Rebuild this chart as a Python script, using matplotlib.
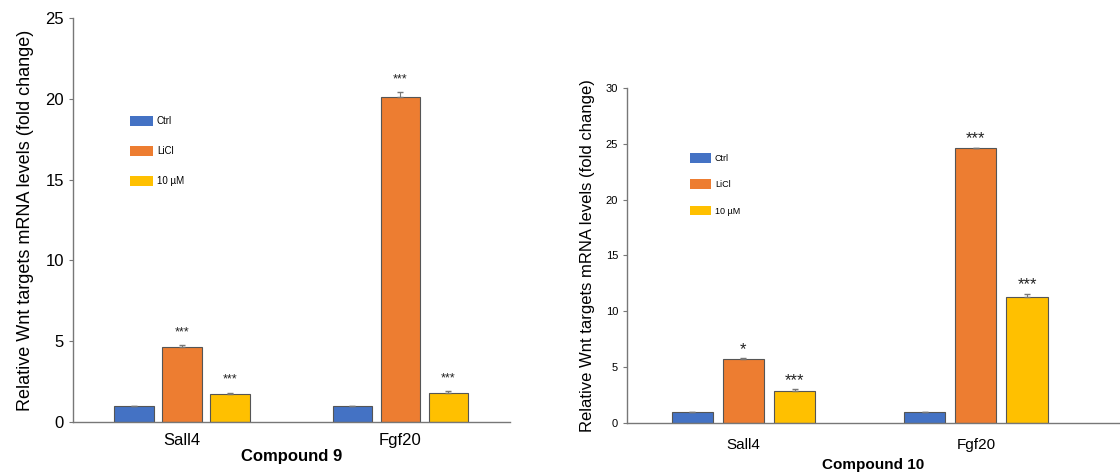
import numpy as np
import matplotlib
matplotlib.use("Agg")
import matplotlib.pyplot as plt
from matplotlib.patches import Patch

plt.rcParams["font.family"] = ["Liberation Sans", "DejaVu Sans"]

genes = ["Sall4", "Fgf20"]
conditions = ["Ctrl", "LiCl", "10 \u00b5M"]
colors = ["#4472C4", "#ED7D31", "#FFC000"]

# compound 9 panel
c9_values = [[1.0, 1.0], [4.63, 20.1], [1.73, 1.78]]
c9_errors = [[0.0, 0.0], [0.12, 0.3], [0.08, 0.1]]
c9_stars = [["", ""], ["***", "***"], ["***", "***"]]

# compound 10 panel
c10_values = [[1.0, 1.0], [5.7, 24.6], [2.85, 11.27]]
c10_errors = [[0.0, 0.0], [0.12, 0.08], [0.15, 0.3]]
c10_stars = [["", ""], ["*", "***"], ["***", "***"]]

fig = plt.figure(figsize=(11.2, 4.74), dpi=100)
ax1 = fig.add_axes([0.065, 0.11, 0.39, 0.852])
ax2 = fig.add_axes([0.56, 0.108, 0.44, 0.706])


def draw(ax, values, errors, stars, ymax, width, step, tick_fs, lab_fs,
         leg_fs, star_fs, star_off, title, xmax, leg_anchor, lspace, pad):
    x = np.arange(len(genes))
    for i, cond in enumerate(conditions):
        pos = x + (i - 1) * step
        ax.bar(pos, values[i], width=width, color=colors[i],
               edgecolor="#555555", linewidth=0.8, zorder=2)
        ax.errorbar(pos, values[i], yerr=[np.zeros(2), errors[i]], fmt="none",
                    ecolor="#777777", elinewidth=0.8, capsize=2, zorder=3)
        for j in range(len(genes)):
            if stars[i][j]:
                ax.annotate(stars[i][j], (pos[j], values[i][j] + errors[i][j]),
                            xytext=(0, star_off), textcoords="offset points",
                            ha="center", va="baseline", fontsize=star_fs,
                            color="#222222")
    ax.set_xlim(-0.5, xmax)
    ax.set_ylim(0, ymax)
    ax.set_xticks(x)
    ax.set_xticklabels(genes, fontsize=lab_fs)
    ax.tick_params(axis="x", length=0, pad=pad)
    ax.tick_params(axis="y", labelsize=tick_fs, length=3, color="#777777")
    for s in ["top", "right"]:
        ax.spines[s].set_visible(False)
    for s in ["left", "bottom"]:
        ax.spines[s].set_color("#777777")
        ax.spines[s].set_linewidth(1.0)
    ax.set_xlabel(title, fontsize=lab_fs, fontweight="bold", labelpad=pad - 7)
    handles = [Patch(facecolor=c, edgecolor="none") for c in colors]
    ax.legend(handles, conditions, loc="upper left", bbox_to_anchor=leg_anchor,
              frameon=False, fontsize=leg_fs, handlelength=2.4,
              handleheight=1.3, labelspacing=lspace, handletextpad=0.4)


draw(ax1, c9_values, c9_errors, c9_stars, 25, 0.18, 0.22, 12, 12,
     7, 9, 7, "Compound 9", 1.5, (0.11, 0.78), 2.0, 8)
ax1.set_ylabel("Relative Wnt targets mRNA levels (fold change)", fontsize=13,
               labelpad=8)
ax1.set_yticks([0, 5, 10, 15, 20, 25])

draw(ax2, c10_values, c10_errors, c10_stars, 30, 0.177, 0.22, 8, 11,
     6.5, 12, 3, "Compound 10", 1.62, (0.11, 0.83), 1.8, 11)
ax2.set_ylabel("Relative Wnt targets mRNA levels (fold change)", fontsize=12,
               labelpad=8)
ax2.set_yticks([0, 5, 10, 15, 20, 25, 30])

fig.savefig("out.png", dpi=100)
